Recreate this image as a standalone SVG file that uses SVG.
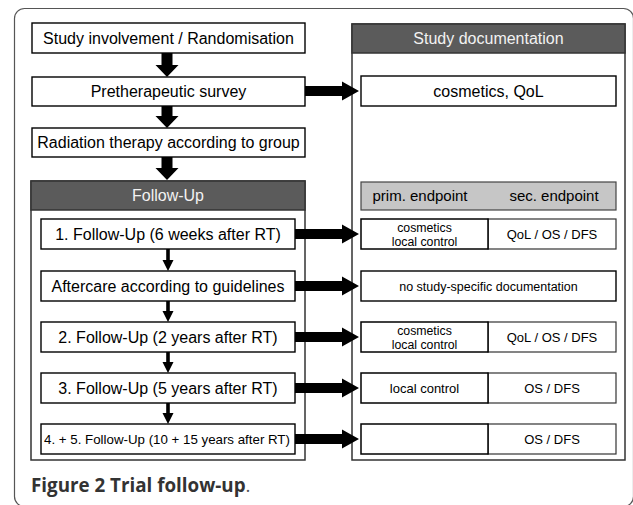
<svg xmlns="http://www.w3.org/2000/svg" width="633" height="505" viewBox="0 0 633 505">
<style>
  .t{font-family:"Liberation Sans",Arial,sans-serif;fill:#000;text-anchor:middle}
  .box{fill:#fff;stroke:#000;stroke-width:1.4}
  .cont{fill:#fff;stroke:#333;stroke-width:1.5}
  .hdr{fill:#5b5b5b;stroke:#333;stroke-width:1.5}
  .ht{font-family:"Liberation Sans",Arial,sans-serif;fill:#f2f2f2;text-anchor:middle;font-size:16px}
  .cell{fill:#fff;stroke:#000;stroke-width:1.5}
  .cell2{fill:#fff;stroke:#333;stroke-width:1.2}
  .arr{fill:#000}
</style>
<rect x="14.5" y="8.5" width="619" height="498" rx="10" fill="#fff" stroke="#555" stroke-width="1.2"/>

<g id="containers">
  <g id="followup-container">
    <rect class="cont" x="31" y="181" width="274" height="279"/>
    <rect class="hdr" x="31" y="181" width="274" height="29"/>
    <text class="ht" x="168" y="201">Follow-Up</text>
  </g>
  <g id="studydoc-container">
    <rect class="cont" x="352" y="24" width="273" height="436"/>
    <rect class="hdr" x="352" y="24" width="273" height="29"/>
    <text class="ht" x="488.5" y="44">Study documentation</text>
  </g>
</g>

<g id="connectors">
  <!-- big vertical arrows -->
  <path class="arr" d="M161.5,53 h11 v12 h6 l-11.5,12 l-11.5,-12 h6 z"/>
  <path class="arr" d="M161.5,106 h11 v10 h6 l-11.5,12 l-11.5,-12 h6 z"/>
  <path class="arr" d="M161.5,157 h11 v11 h6 l-11.5,12 l-11.5,-12 h6 z"/>
  <!-- small vertical arrows -->
  <path class="arr" d="M166.2,249 h3.6 v11 h3.7 l-5.5,11 l-5.5,-11 h3.7 z"/>
  <path class="arr" d="M166.2,301 h3.6 v10 h3.7 l-5.5,11 l-5.5,-11 h3.7 z"/>
  <path class="arr" d="M166.2,352 h3.6 v10 h3.7 l-5.5,11 l-5.5,-11 h3.7 z"/>
  <path class="arr" d="M166.2,403 h3.6 v10 h3.7 l-5.5,11 l-5.5,-11 h3.7 z"/>
  <!-- horizontal arrows -->
  <path class="arr" d="M305,86 H342 V81.5 L359,91 L342,100.5 V96 H305 z"/>
  <path class="arr" d="M295,229 H342 V224.5 L359,234 L342,243.5 V239 H295 z"/>
  <path class="arr" d="M295,281 H342 V276.5 L359,286 L342,295.5 V291 H295 z"/>
  <path class="arr" d="M295,332 H342 V327.5 L359,337 L342,346.5 V342 H295 z"/>
  <path class="arr" d="M295,383 H342 V378.5 L359,388 L342,397.5 V393 H295 z"/>
  <path class="arr" d="M295,434 H342 V429.5 L359,439 L342,448.5 V444 H295 z"/>
</g>

<g id="n-study">
  <rect class="box" x="32" y="23" width="273" height="30"/>
  <text class="t" x="168.5" y="43.5" font-size="16">Study involvement / Randomisation</text>
</g>
<g id="n-pre">
  <rect class="box" x="32" y="77" width="273" height="29"/>
  <text class="t" x="168.5" y="97" font-size="16">Pretherapeutic survey</text>
</g>
<g id="n-rt">
  <rect class="box" x="32" y="128" width="273" height="29"/>
  <text class="t" x="168.5" y="148" font-size="16">Radiation therapy according to group</text>
</g>
<g id="n-fu1">
  <rect class="box" x="41" y="219" width="254" height="30"/>
  <text class="t" x="168" y="239.5" font-size="16">1. Follow-Up (6 weeks after RT)</text>
</g>
<g id="n-aftercare">
  <rect class="box" x="41" y="271" width="254" height="30" stroke-width="2"/>
  <text class="t" x="168" y="291.5" font-size="16">Aftercare according to guidelines</text>
</g>
<g id="n-fu2">
  <rect class="box" x="41" y="322" width="254" height="30"/>
  <text class="t" x="168" y="342.5" font-size="16">2. Follow-Up (2 years after RT)</text>
</g>
<g id="n-fu3">
  <rect class="box" x="41" y="373" width="254" height="30"/>
  <text class="t" x="168" y="393.5" font-size="16">3. Follow-Up (5 years after RT)</text>
</g>
<g id="n-fu45">
  <rect class="box" x="41" y="424" width="254" height="30"/>
  <text class="t" x="167" y="443.5" font-size="13.3">4. + 5. Follow-Up (10 + 15 years after RT)</text>
</g>

<g id="d-pre">
  <rect class="box" x="361" y="76" width="255" height="30"/>
  <text class="t" x="488.5" y="96.5" font-size="16">cosmetics, QoL</text>
</g>
<g id="d-endpoints">
  <rect x="361" y="182" width="255" height="28" fill="#c6c6c6" stroke="#444" stroke-width="1.2"/>
  <text class="t" x="420" y="201" font-size="15">prim. endpoint</text>
  <text class="t" x="554" y="201" font-size="15">sec. endpoint</text>
</g>
<g id="d-fu1">
  <rect class="cell2" x="488" y="219" width="128" height="30"/>
  <rect class="cell" x="361" y="219" width="127" height="30"/>
  <text class="t" x="424.5" y="231.5" font-size="12.3">cosmetics</text>
  <text class="t" x="424.5" y="246" font-size="12.3">local control</text>
  <text class="t" x="552" y="238.5" font-size="13">QoL / OS / DFS</text>
</g>
<g id="d-aftercare">
  <rect class="box" x="361" y="271" width="255" height="30"/>
  <text class="t" x="488.5" y="290.5" font-size="12.5">no study-specific documentation</text>
</g>
<g id="d-fu2">
  <rect class="cell2" x="488" y="322" width="128" height="30"/>
  <rect class="cell" x="361" y="322" width="127" height="30"/>
  <text class="t" x="424.5" y="334.5" font-size="12.3">cosmetics</text>
  <text class="t" x="424.5" y="349" font-size="12.3">local control</text>
  <text class="t" x="552" y="341.5" font-size="13">QoL / OS / DFS</text>
</g>
<g id="d-fu3">
  <rect class="cell2" x="488" y="373" width="128" height="30"/>
  <rect class="cell" x="361" y="373" width="127" height="30"/>
  <text class="t" x="424.5" y="392.5" font-size="13">local control</text>
  <text class="t" x="552" y="392.5" font-size="13">OS / DFS</text>
</g>
<g id="d-fu45">
  <rect class="cell2" x="488" y="424" width="128" height="30"/>
  <rect class="cell" x="361" y="424" width="127" height="30"/>
  <text class="t" x="552" y="443.5" font-size="13">OS / DFS</text>
</g>

<text x="31" y="492" font-family="'Open Sans','DejaVu Sans',sans-serif" font-size="18.8" fill="#333"><tspan font-weight="bold">Figure 2 Trial follow-up</tspan><tspan fill="#555">.</tspan></text>
</svg>
